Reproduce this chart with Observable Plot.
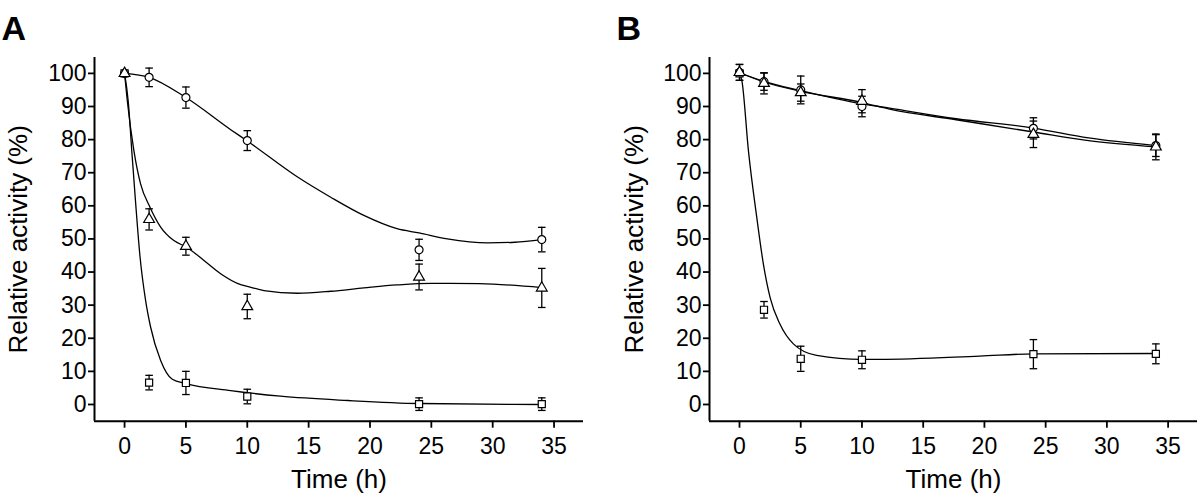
<!DOCTYPE html>
<html><head><meta charset="utf-8">
<script src="https://cdn.jsdelivr.net/npm/d3@7"></script>
<script src="https://cdn.jsdelivr.net/npm/@observablehq/plot@0.6"></script>
<style>
body{margin:0;background:#fff}
#wrap{display:flex;width:1200px;height:494px;background:#fff}
</style>
</head><body><div id="wrap"></div>
<script>
// ---------- shared ----------
const times = [0, 2, 5, 10, 24, 34];
const xTicks = [0, 5, 10, 15, 20, 25, 30, 35];
const yTicks = [0, 10, 20, 30, 40, 50, 60, 70, 80, 90, 100];
const xTitle = "Time (h)";
const yTitle = "Relative activity (%)";

// ---------- Panel A: measured points (mean, error) ----------
const aCircle      = [100, 98.8, 92.7, 79.7, 46.7, 49.8];
const aCircleErr   = [0, 2.8, 3.2, 3.0, 3.2, 3.7];
const aTriangle    = [100, 55.9, 47.8, 29.6, 38.5, 35.2];
const aTriangleErr = [0, 3.2, 2.7, 3.7, 3.9, 5.9];
const aSquare      = [100, 6.6, 6.5, 2.4, 0.1, 0.1];
const aSquareErr   = [0, 2.2, 3.5, 2.2, 1.9, 1.9];

// Panel A: fitted curves
const aCircleFitT   = [0, 2, 5, 8.65, 10, 14.1, 16.8, 19.5, 22.2, 24, 26.3, 29.6, 31.8, 34];
const aCircleFitV   = [100, 98.8, 92.7, 83, 79.6, 68.7, 62.6, 57.1, 53.1, 51.8, 50, 48.8, 49, 49.8];
const aTriangleFitT = [0, 0.22, 0.76, 1.3, 2.07, 2.94, 4.02, 5.06, 6.47, 7.83, 9.19, 10.28, 11.36, 14.09, 16.8, 19.5, 22.2, 25, 28.9, 34];
const aTriangleFitV = [100, 91.8, 76.7, 66.7, 59.6, 53.6, 49.5, 47.5, 43.5, 39.5, 36.6, 35.4, 34.4, 33.6, 34.2, 35.2, 36.1, 36.6, 36.5, 35.3];
const aSquareFitT   = [0, 0.3, 0.6, 0.9, 1.25, 1.71, 2.12, 2.94, 3.89, 5, 8.65, 12.7, 18.2, 24, 34];
const aSquareFitV   = [100, 91.5, 76, 61, 45, 31.5, 23.4, 13.3, 7.6, 6.3, 4.2, 2.5, 1.2, 0.3, 0];

// ---------- Panel B: measured points ----------
const bCircle      = [100.3, 97.5, 95.0, 90.0, 83.4, 78.2];
const bCircleErr   = [2.4, 2.6, 4.2, 3.1, 3.2, 3.3];
const bTriangle    = [100.3, 97.0, 94.2, 91.6, 81.6, 77.8];
const bTriangleErr = [2.4, 3.2, 2.6, 3.5, 4.0, 3.9];
const bSquare      = [100, 28.6, 13.8, 13.5, 15.2, 15.3];
const bSquareErr   = [0, 2.5, 3.8, 2.7, 4.4, 3.0];

// Panel B: fitted curves
const bCircleFitT   = [0, 2, 5, 10, 12.25, 17.7, 24, 28.5, 34];
const bCircleFitV   = [100.2, 97.6, 94.8, 90.8, 89.5, 86.3, 83.5, 80.5, 78.2];
const bTriangleFitT = [0, 2, 5, 10, 12.25, 17.7, 24, 28.5, 34];
const bTriangleFitV = [100.2, 97.4, 94.6, 91.2, 89.2, 86.0, 82.3, 79.7, 77.8];
const bSquareFitT   = [0, 0.2, 0.73, 1.41, 1.95, 2.5, 3.3, 4.4, 6.3, 10, 11.4, 19.6, 24, 34];
const bSquareFitV   = [100, 97.7, 76.6, 56.5, 42.4, 32.3, 24.3, 18.3, 14.8, 13.6, 13.6, 14.6, 15.3, 15.4];

// ---------- helpers ----------
function pts(shape, vals, errs) {
  return times.map((t, i) => ({t, v: vals[i], e: errs[i], shape}));
}
function fit(series, T, V) {
  return T.map((t, i) => ({t, v: V[i], series}));
}
const capSymbol = {
  draw(ctx) { const w = 3.8; ctx.moveTo(-w, 0); ctx.lineTo(w, 0); }
};
const xDomain = [-2.45, 37.4];
const yDomain = [-5.05, 104.8];
const FONT = "'Liberation Sans', Arial, Helvetica, sans-serif";

function panel({letter, marginLeft, marginRight, yTitleDx, points, fits}) {
  const bars = points.filter(d => d.e > 0);
  return Plot.plot({
    width: 600,
    height: 494,
    marginTop: 57,
    marginBottom: 73.3,
    marginLeft,
    marginRight,
    style: {fontFamily: FONT, background: "white", color: "black", overflow: "visible"},
    x: {domain: xDomain},
    y: {domain: yDomain},
    marks: [
      Plot.ruleX([xDomain[0]], {stroke: "black", strokeWidth: 2}),
      Plot.ruleY([yDomain[0]], {stroke: "black", strokeWidth: 2}),
      Plot.axisY(yTicks, {tickSize: 6, tickPadding: 2, fontSize: 23, label: null, stroke: "black", strokeWidth: 1.8}),
      Plot.axisX(xTicks, {tickSize: 7, tickPadding: 9, fontSize: 23, label: null, stroke: "black", strokeWidth: 1.8}),
      Plot.line(fits, {x: "t", y: "v", z: "series", curve: "monotone-x", stroke: "black", strokeWidth: 1.3}),
      Plot.ruleX(bars, {x: "t", y1: d => d.v - d.e, y2: d => d.v + d.e, stroke: "black", strokeWidth: 1.3}),
      Plot.dot(bars, {x: "t", y: d => d.v + d.e, symbol: capSymbol, fill: "none", stroke: "black", strokeWidth: 1.3}),
      Plot.dot(bars, {x: "t", y: d => d.v - d.e, symbol: capSymbol, fill: "none", stroke: "black", strokeWidth: 1.3}),
      Plot.dot(points, {x: "t", y: "v", symbol: "shape", r: 4, fill: "white", stroke: "black", strokeWidth: 1.2}),
      Plot.text([letter], {text: d => d, frameAnchor: "top-left", textAnchor: "start", lineAnchor: "top", dx: -93, dy: -42, fontSize: 34, fontWeight: "bold"}),
      Plot.text([yTitle], {text: d => d, frameAnchor: "left", rotate: -90, textAnchor: "middle", lineAnchor: "bottom", dx: yTitleDx, fontSize: 26}),
      Plot.text([xTitle], {text: d => d, frameAnchor: "bottom", lineAnchor: "bottom", dy: 67, fontSize: 26})
    ]
  });
}

const pointsA = [
  ...pts("circle", aCircle, aCircleErr),
  ...pts("square", aSquare, aSquareErr),
  ...pts("triangle", aTriangle, aTriangleErr)
];
const fitsA = [
  ...fit("circle", aCircleFitT, aCircleFitV),
  ...fit("triangle", aTriangleFitT, aTriangleFitV),
  ...fit("square", aSquareFitT, aSquareFitV)
];
const pointsB = [
  ...pts("circle", bCircle, bCircleErr),
  ...pts("square", bSquare, bSquareErr),
  ...pts("triangle", bTriangle, bTriangleErr)
];
const fitsB = [
  ...fit("circle", bCircleFitT, bCircleFitV),
  ...fit("triangle", bTriangleFitT, bTriangleFitV),
  ...fit("square", bSquareFitT, bSquareFitV)
];

const wrap = document.getElementById("wrap");
wrap.append(panel({letter: "A", marginLeft: 94, marginRight: 17, yTitleDx: -68, points: pointsA, fits: fitsA}));
wrap.append(panel({letter: "B", marginLeft: 109, marginRight: 3, yTitleDx: -67, points: pointsB, fits: fitsB}));
</script>
</body></html>
